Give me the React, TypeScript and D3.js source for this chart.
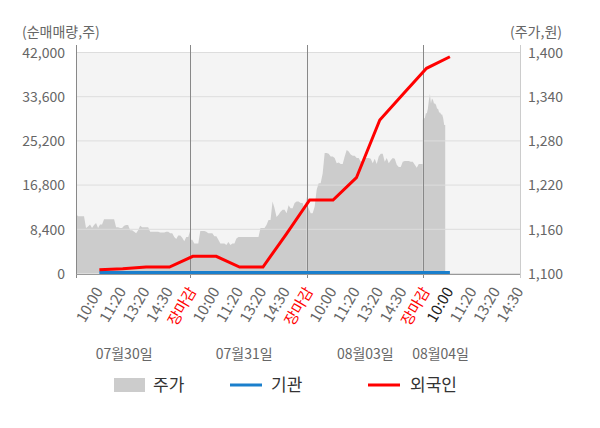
import React, { useEffect, useRef } from "react";
import * as d3 from "d3";

// x axis: 19 slots, labels sit on slots 1..19
const timeLabels = [
  "10:00", "11:20", "13:20", "14:30", "장마감",
  "10:00", "11:20", "13:20", "14:30", "장마감",
  "10:00", "11:20", "13:20", "14:30", "장마감",
  "10:00", "11:20", "13:20", "14:30",
];
const currentLabel = 15; // index of the live "10:00"
const dateLabels = ["07월30일", "07월31일", "08월03일", "08월04일"];
const datePos = [2.06, 7.2, 12.38, 15.6];
const daySeparators = [4.89, 9.87, 14.84];
// span of each session on the slot axis
const dayRanges: [number, number][] = [
  [0, 4.89],
  [4.89, 9.87],
  [9.87, 14.84],
  [14.84, 15.8],
];

// price (원), sampled evenly across each session
const priceDay1 = [
  1180, 1177, 1177, 1177, 1177, 1161, 1163, 1166, 1161, 1165, 1168, 1161, 1166, 1166, 1173, 1173,
  1173, 1173, 1173, 1173, 1162, 1162, 1161, 1161, 1164, 1165, 1165, 1158, 1158, 1156, 1154, 1158,
  1164, 1162, 1162, 1162, 1162, 1156, 1156, 1156, 1156, 1156, 1155, 1155, 1155, 1156, 1156, 1154,
  1154, 1149, 1146, 1151, 1151, 1148, 1143, 1149, 1149, 1158,
];
const priceDay2 = [
  1145, 1145, 1140, 1140, 1140, 1157, 1157, 1157, 1156, 1154, 1154, 1154, 1150, 1150, 1145, 1140,
  1140, 1140, 1138, 1142, 1138, 1140, 1140, 1147, 1149, 1149, 1149, 1149, 1149, 1149, 1149, 1149,
  1149, 1149, 1149, 1161, 1161, 1161, 1165, 1172, 1172, 1197, 1188, 1176, 1179, 1183, 1186, 1186,
  1181, 1192, 1188, 1188, 1195, 1197, 1197, 1195, 1195, 1186, 1204,
];
const priceDay3 = [
  1192, 1188, 1181, 1181, 1190, 1213, 1222, 1222, 1235, 1263, 1263, 1262, 1258, 1258, 1256, 1249,
  1250, 1248, 1248, 1258, 1267, 1265, 1261, 1259, 1259, 1256, 1256, 1251, 1253, 1256, 1256, 1256,
  1255, 1249, 1255, 1248, 1258, 1262, 1262, 1251, 1256, 1249, 1253, 1256, 1255, 1247, 1244, 1244,
  1251, 1252, 1252, 1252, 1251, 1251, 1247, 1243, 1248, 1248, 1248,
];
const priceDay4 = [
  1308, 1310, 1310, 1317, 1317, 1323, 1335, 1343, 1330, 1337, 1335, 1330, 1330, 1328, 1323, 1323,
  1318, 1318, 1315, 1315, 1310, 1301, 1301,
];
const priceDays = [priceDay1, priceDay2, priceDay3, priceDay4];

// cumulative net buying (주), one value per label slot 1..16
const foreignNet = [
  600, 820, 1140, 1140, 3170, 3170, 1140, 1140, 7400, 13870, 13870, 18110, 29080, 34020, 38900, 41100,
];
const instNet = [100, 100, 100, 100, 100, 100, 100, 100, 100, 100, 100, 100, 100, 100, 100, 100];

const leftTicks = [0, 8400, 16800, 25200, 33600, 42000];
const rightTicks = [1100, 1160, 1220, 1280, 1340, 1400];

const FONT = "'Noto Sans CJK KR', 'Noto Sans', sans-serif";

const NetBuyChart: React.FC = () => {
  const svgRef = useRef<SVGSVGElement>(null);

  useEffect(() => {
    const width = 600;
    const height = 428;
    const m = { left: 76, right: 520, top: 52, bottom: 273 };

    const svg = d3.select(svgRef.current).attr("width", width).attr("height", height);
    svg.selectAll("*").remove();

    const x = d3.scaleLinear().domain([0, 19]).range([m.left, m.right]);
    const yL = d3.scaleLinear().domain([0, 42000]).range([m.bottom, m.top]);
    const yR = d3.scaleLinear().domain([1100, 1400]).range([m.bottom, m.top]);
    const fmt = d3.format(",");

    // plot background
    svg
      .append("rect")
      .attr("x", m.left)
      .attr("y", m.top)
      .attr("width", m.right - m.left)
      .attr("height", m.bottom - m.top)
      .attr("fill", "#f4f4f4");

    // price area
    const area = d3
      .area<[number, number]>()
      .x(d => x(d[0]))
      .y0(m.bottom)
      .y1(d => yR(d[1]));

    priceDays.forEach((vals, i) => {
      const [a, b] = dayRanges[i];
      const pts: [number, number][] = vals.map((v, j) => [a + ((b - a) * j) / (vals.length - 1), v]);
      svg.append("path").attr("d", area(pts)).attr("fill", "#cccccc");
    });

    // gridlines over the area
    svg
      .append("g")
      .selectAll("line")
      .data(leftTicks)
      .enter()
      .append("line")
      .attr("x1", m.left)
      .attr("x2", m.right)
      .attr("y1", d => yL(d) + 0.5)
      .attr("y2", d => yL(d) + 0.5)
      .attr("stroke", "#dddddd");

    // day separators
    svg
      .append("g")
      .selectAll("line")
      .data(daySeparators)
      .enter()
      .append("line")
      .attr("x1", d => Math.round(x(d)) + 0.5)
      .attr("x2", d => Math.round(x(d)) + 0.5)
      .attr("y1", 45)
      .attr("y2", m.bottom + 5)
      .attr("stroke", "#888");

    // frame
    [m.left, m.right].forEach(px => {
      svg
        .append("line")
        .attr("x1", px + 0.5)
        .attr("x2", px + 0.5)
        .attr("y1", 45)
        .attr("y2", m.bottom + 5)
        .attr("stroke", px === m.left ? "#888" : "#ccc");
    });
    svg
      .append("line")
      .attr("x1", m.left)
      .attr("x2", m.right)
      .attr("y1", m.bottom + 1.5)
      .attr("y2", m.bottom + 1.5)
      .attr("stroke", "#999");

    // lines
    const line = d3
      .line<number>()
      .x((_, i) => x(i + 1))
      .y(d => yL(d));

    svg
      .append("path")
      .attr("d", line(instNet))
      .attr("fill", "none")
      .attr("stroke", "#1a7fcc")
      .attr("stroke-width", 3);

    svg
      .append("path")
      .attr("d", line(foreignNet))
      .attr("fill", "none")
      .attr("stroke", "#ff0000")
      .attr("stroke-width", 3);

    // left axis labels
    svg
      .append("g")
      .selectAll("text")
      .data(leftTicks)
      .enter()
      .append("text")
      .attr("x", 65)
      .attr("y", d => yL(d) + 2)
      .attr("text-anchor", "end")
      .attr("dominant-baseline", "middle")
      .style("font-size", "14px")
      .style("font-family", FONT)
      .style("fill", "#666")
      .text(d => fmt(d));

    // right axis labels
    svg
      .append("g")
      .selectAll("text")
      .data(rightTicks)
      .enter()
      .append("text")
      .attr("x", 528)
      .attr("y", d => yR(d) + 2)
      .attr("text-anchor", "start")
      .attr("dominant-baseline", "middle")
      .style("font-size", "14px")
      .style("font-family", FONT)
      .style("fill", "#666")
      .text(d => fmt(d));

    // axis titles
    svg
      .append("text")
      .attr("x", 22)
      .attr("y", 33)
      .attr("dominant-baseline", "middle")
      .style("font-size", "14px")
      .style("font-family", FONT)
      .style("fill", "#666")
      .text("(순매매량,주)");
    svg
      .append("text")
      .attr("x", 562)
      .attr("y", 33)
      .attr("text-anchor", "end")
      .attr("dominant-baseline", "middle")
      .style("font-size", "14px")
      .style("font-family", FONT)
      .style("fill", "#666")
      .text("(주가,원)");

    // x labels
    svg
      .append("g")
      .selectAll("text")
      .data(timeLabels)
      .enter()
      .append("text")
      .attr("transform", (_, i) => `translate(${x(i + 1) + 4}, 291) rotate(-60)`)
      .attr("text-anchor", "end")
      .style("font-size", "15px")
      .style("font-family", FONT)
      .style("fill", (d, i) => (d === "장마감" ? "#ff0000" : i === currentLabel ? "#222" : "#666"))
      .text(d => d);

    svg
      .append("g")
      .selectAll("text")
      .data(dateLabels)
      .enter()
      .append("text")
      .attr("x", (_, i) => x(datePos[i]))
      .attr("y", 355)
      .attr("text-anchor", "middle")
      .attr("dominant-baseline", "middle")
      .style("font-size", "14px")
      .style("font-family", FONT)
      .style("fill", "#666")
      .text(d => d);

    // legend
    const legend = svg.append("g").attr("transform", "translate(0, 385)");
    legend
      .append("rect")
      .attr("x", 114)
      .attr("y", -7)
      .attr("width", 31)
      .attr("height", 14)
      .attr("fill", "#cccccc");
    legend
      .append("line")
      .attr("x1", 230)
      .attr("x2", 262)
      .attr("stroke", "#1a7fcc")
      .attr("stroke-width", 3);
    legend
      .append("line")
      .attr("x1", 368)
      .attr("x2", 400)
      .attr("stroke", "#ff0000")
      .attr("stroke-width", 3);
    const legendText = [
      { label: "주가", x: 153 },
      { label: "기관", x: 271 },
      { label: "외국인", x: 410 },
    ];
    legend
      .selectAll("text")
      .data(legendText)
      .enter()
      .append("text")
      .attr("x", d => d.x)
      .attr("y", 1)
      .attr("dominant-baseline", "middle")
      .style("font-size", "17px")
      .style("font-family", FONT)
      .style("fill", "#333")
      .text(d => d.label);
  }, []);

  return <svg ref={svgRef} style={{ position: "absolute", left: 0, top: 0 }}></svg>;
};

export default function App() {
  return (
    <div style={{ background: "#fff" }}>
      <NetBuyChart />
    </div>
  );
}
